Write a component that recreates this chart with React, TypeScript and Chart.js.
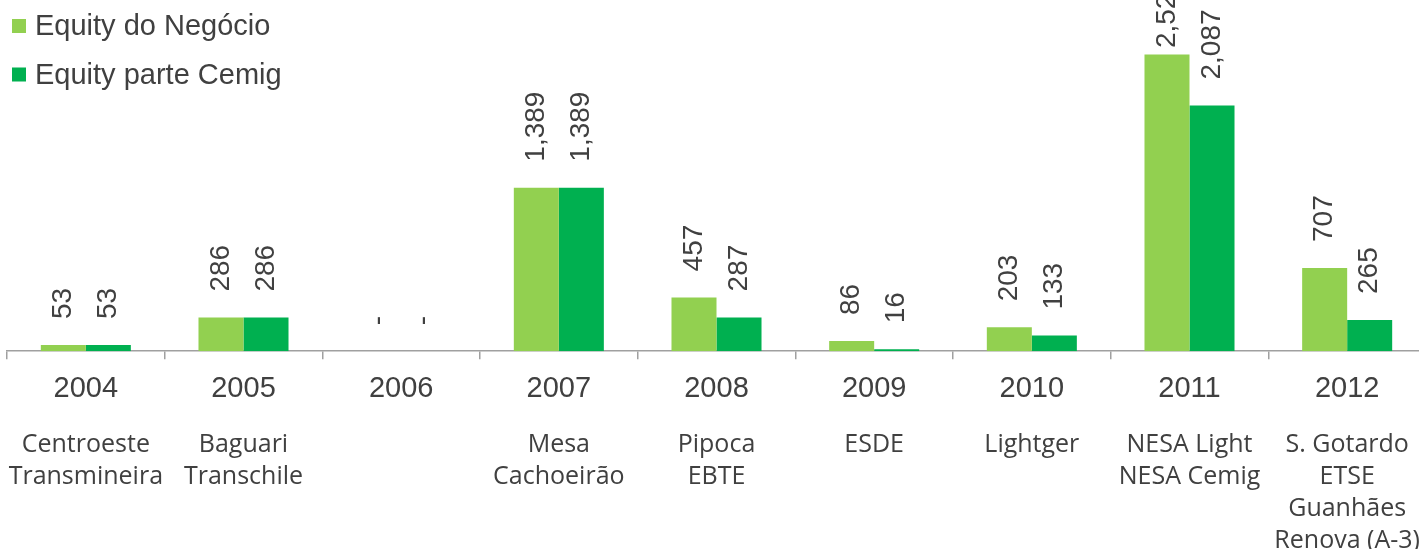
import React, { useEffect, useRef } from 'react';
import { Chart, registerables } from 'chart.js';
Chart.register(...registerables);

const years = ['2004', '2005', '2006', '2007', '2008', '2009', '2010', '2011', '2012'];
const equityNegocio = [53, 286, 0, 1389, 457, 86, 203, 2521, 707];
const equityCemig = [53, 286, 0, 1389, 287, 16, 133, 2087, 265];
const projects: string[][] = [
  ['Centroeste', 'Transmineira'],
  ['Baguari', 'Transchile'],
  [],
  ['Mesa', 'Cachoeirão'],
  ['Pipoca', 'EBTE'],
  ['ESDE'],
  ['Lightger'],
  ['NESA Light', 'NESA Cemig'],
  ['S. Gotardo', 'ETSE', 'Guanhães', 'Renova (A-3)'],
];
const seriesNames = ['Equity do Negócio', 'Equity parte Cemig'];

const LIGHT = '#92D050';
const DARK = '#00B050';
const TEXT = '#404040';
const AXIS = '#A0A0A0';
const Y_SHIFT = 22; // canvas is placed 22px above the page top
const GAP = 26;

export default function App() {
  const ref = useRef<HTMLCanvasElement>(null);

  useEffect(() => {
    if (!ref.current) return;
    const customPlugin = {
      id: 'customDraw',
      afterDatasetsDraw(chart: any) {
        const ctx = chart.ctx as CanvasRenderingContext2D;
        ctx.save();
        // value labels
        ctx.font = '28px "Liberation Sans", Arial, sans-serif';
        ctx.fillStyle = TEXT;
        chart.data.datasets.forEach((ds: any, di: number) => {
          const meta = chart.getDatasetMeta(di);
          meta.data.forEach((bar: any, i: number) => {
            const v = ds.data[i] as number;
            const txt = v === 0 ? '-' : v.toLocaleString('en-US');
            const w = ctx.measureText(txt).width;
            let start = bar.y - GAP;
            if (start - w < 0) start = w;
            ctx.save();
            ctx.translate(bar.x, start);
            ctx.rotate(-Math.PI / 2);
            ctx.textAlign = 'left';
            ctx.textBaseline = 'middle';
            ctx.fillText(txt, 0, 0);
            ctx.restore();
          });
        });
        // legend
        const colors = [LIGHT, DARK];
        ctx.font = '29px "Liberation Sans", Arial, sans-serif';
        ctx.textAlign = 'left';
        ctx.textBaseline = 'alphabetic';
        seriesNames.forEach((name, i) => {
          const top = 19 + i * 48.5 + Y_SHIFT;
          ctx.fillStyle = colors[i];
          ctx.fillRect(12, top, 14, 14);
          ctx.fillStyle = TEXT;
          ctx.fillText(name, 35, 35 + i * 48.5 + Y_SHIFT);
        });
        // project sub-labels
        const xs = chart.scales.x;
        ctx.font = '25px "Open Sans", sans-serif';
        ctx.textAlign = 'center';
        ctx.fillStyle = TEXT;
        projects.forEach((lines, i) => {
          const x = xs.getPixelForValue(i);
          lines.forEach((l, j) => ctx.fillText(l, x, 452 + Y_SHIFT + j * 32));
        });
        ctx.restore();
      },
    };

    const chart = new Chart(ref.current, {
      type: 'bar',
      data: {
        labels: years,
        datasets: [
          { label: seriesNames[0], data: equityNegocio, backgroundColor: LIGHT, barPercentage: 1, categoryPercentage: 0.571 },
          { label: seriesNames[1], data: equityCemig, backgroundColor: DARK, barPercentage: 1, categoryPercentage: 0.571 },
        ],
      },
      options: {
        responsive: false,
        animation: false,
        devicePixelRatio: 1,
        layout: { padding: { left: 7, right: 14, top: 0, bottom: 131 } },
        plugins: { legend: { display: false }, tooltip: { enabled: false } },
        scales: {
          x: {
            grid: { display: true, drawOnChartArea: false, tickLength: 8, color: AXIS, lineWidth: 1.5, offset: true },
            border: { color: AXIS, width: 1.5 },
            ticks: { color: TEXT, font: { family: '"Liberation Sans", Arial, sans-serif', size: 29 }, padding: 12 },
          },
          y: { display: false, min: 0, max: 3170 },
        },
      },
      plugins: [customPlugin],
    });
    return () => chart.destroy();
  }, []);

  return (
    <div style={{ position: 'fixed', left: 0, top: -Y_SHIFT, width: 1440, height: 571, background: '#fff' }}>
      <canvas ref={ref} width={1440} height={571} style={{ display: 'block' }} />
    </div>
  );
}
